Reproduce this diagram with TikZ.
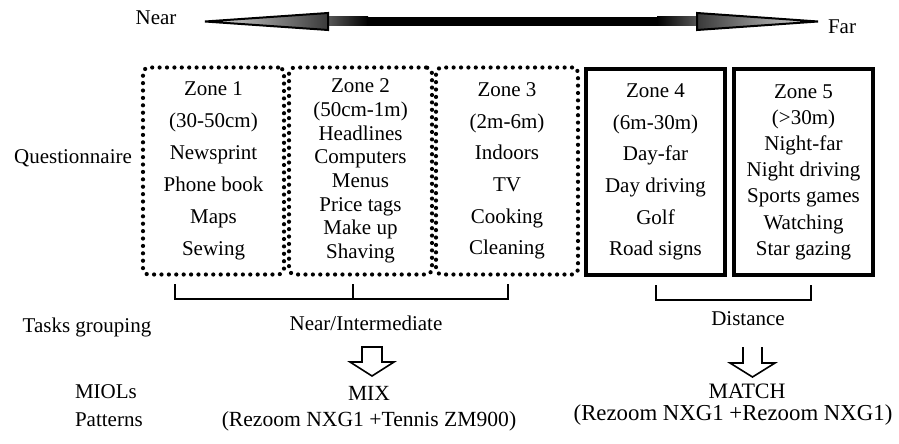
\documentclass[tikz,border=0pt]{standalone}
\usepackage{fontspec}
\setmainfont{Liberation Serif}
\begin{document}
\begin{tikzpicture}[x=0.5pt,y=-0.5pt,
		every node/.style={font=\fontsize{10.5}{12}\selectfont},
		zone/.style={inner sep=0pt,outer sep=0pt,align=center,minimum height=103.5pt},
		dotbox/.style={zone,draw,line width=2.1pt,dash pattern=on 0pt off 3.7pt,line cap=round,rounded corners=3pt},
		solidbox/.style={zone,draw,line width=2pt,minimum width=69.5pt,minimum height=103pt},
		hollow/.style={line width=0.8pt,line join=miter}]
		\useasboundingbox (0,0) rectangle (899,444);
		% near - far arrow
		\shade[left color=gray!70!black,right color=black] (327,17) rectangle (368,26);
		\fill (367,17) rectangle (658,26);
		\shade[left color=black,right color=gray!70!black] (657,17) rectangle (698,26);
		\shadedraw[left color=gray!25,right color=gray!45!black,line width=1pt] (205,21.5) -- (328,13) -- (328,30) -- cycle;
		\shadedraw[left color=gray!45!black,right color=gray!25,line width=1pt] (697,13) -- (818,21.5) -- (697,30) -- cycle;
		\node (near) at (156,18) {Near};
		\node (far) at (842,27) {Far};
		% zones
		\node[dotbox,minimum width=70.5pt,font=\fontsize{10.5}{16}\selectfont] (zone1) at (213.5,171)
			{Zone 1\\(30-50cm)\\Newsprint\\Phone book\\Maps\\Sewing};
		\node[dotbox,minimum width=71.5pt,font=\fontsize{10.5}{11.85}\selectfont] (zone2) at (360.5,171)
			{Zone 2\\(50cm-1m)\\Headlines\\Computers\\Menus\\Price tags\\Make up\\Shaving};
		\node[dotbox,minimum width=71pt,font=\fontsize{10.5}{15.8}\selectfont] (zone3) at (507,171)
			{Zone 3\\(2m-6m)\\Indoors\\TV\\Cooking\\Cleaning};
		\node[solidbox,font=\fontsize{10.5}{15.8}\selectfont] (zone4) at (655.5,172)
			{Zone 4\\(6m-30m)\\Day-far\\Day driving\\Golf\\Road signs};
		\node[solidbox,font=\fontsize{10.5}{13.1}\selectfont] (zone5) at (803.5,172)
			{Zone 5\\(>30m)\\Night-far\\Night driving\\Sports games\\Watching\\Star gazing};
		\node (quest) at (73,158) {Questionnaire};
		% groupings
		\draw [line width=0.8pt] (175,284) |- (508,299) -- (508,284);
		\draw [line width=0.8pt] (353,284) -- (353,299);
		\draw [line width=0.8pt] (656,285) |- (811,300) -- (811,285);
		\node (tasks) at (87,327) {Tasks grouping};
		\node (nearint) at (366,323) {Near/Intermediate};
		\node (dist) at (748,319) {Distance};
		% patterns
		\draw [hollow] (362,347) -- (382,347) -- (382,362) -- (394,362) -- (372,376) -- (350,362) -- (362,362) -- cycle;
		\draw [hollow] (743,347) -- (743,363) -- (730,363) -- (752.5,377) -- (775,363) -- (762,363) -- (762,347);
		\node[anchor=west] (miols) at (68,392) {MIOLs};
		\node[anchor=west] (patt) at (68,420) {Patterns};
		\node[font=\fontsize{10.8}{12}\selectfont] (mix) at (369,393) {MIX};
		\node[font=\fontsize{10.8}{12}\selectfont] (mixlens) at (369,421) {(Rezoom NXG1 +Tennis ZM900)};
		\node[font=\fontsize{11}{12}\selectfont] (match) at (747,391) {MATCH};
		\node[font=\fontsize{11.4}{12}\selectfont] (matchlens) at (733,415) {(Rezoom NXG1 +Rezoom NXG1)};
\end{tikzpicture}
\end{document}
